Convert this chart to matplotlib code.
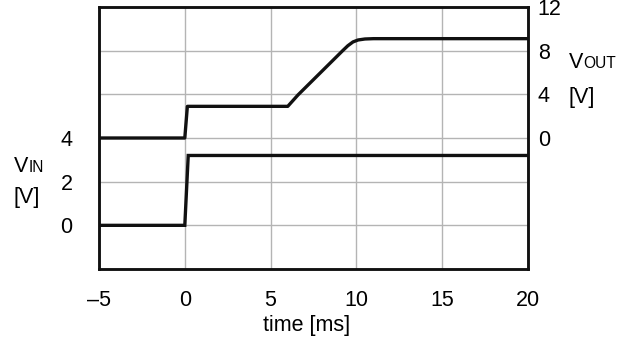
import matplotlib
matplotlib.use("Agg")
import matplotlib.pyplot as plt

plt.rcParams['font.family'] = ['Liberation Sans', 'DejaVu Sans']

# data
vin_t = [-5, 0.0, 0.2, 20]
vin_v = [0, 0, 3.2, 3.2]
vout_t = [-5, 0.0, 0.15, 6.0, 6.6, 9.2, 9.5, 9.8, 10.1, 10.5, 11.0, 20]
vout_v = [0, 0, 2.9, 2.9, 3.95, 8.0, 8.45, 8.8, 8.98, 9.07, 9.1, 9.1]
x_ticks = [-5, 0, 5, 10, 15, 20]
x_labels = ['\u20135', '0', '5', '10', '15', '20']
vin_ticks = [0, 2, 4, 6, 8]
vin_labels = ['0', '2', '4', '', '']
vout_ticks = [0, 4, 8, 12]
vout_labels = ['0', '4', '8', '12']

W, H = 629, 342
fig = plt.figure(figsize=(W / 100, H / 100), dpi=100)
ax = fig.add_axes([99 / W, 1 - 269 / H, 429 / W, 262 / H])
ax2 = ax.twinx()

fs = 15.5
ax.set_xlim(-5, 20)
ax.set_ylim(-2, 10)
ax2.set_ylim(-12, 12)

ax.set_xticks(x_ticks)
ax.set_xticklabels(x_labels, fontsize=fs)
ax.set_yticks(vin_ticks)
ax.set_yticklabels(vin_labels, fontsize=fs)
ax2.set_yticks(vout_ticks)
ax2.set_yticklabels(vout_labels, fontsize=fs)

ax.tick_params(axis='x', length=0, pad=15)
ax.tick_params(axis='y', length=0, pad=19)
ax2.tick_params(axis='y', length=0, pad=7)

ax.grid(True, color='#b4b4b4', linewidth=1.0)
ax.set_axisbelow(True)

for a in (ax, ax2):
    for s in a.spines.values():
        s.set_linewidth(1.8)
        s.set_color('#111111')

ax.plot(vin_t, vin_v, color='#111111', linewidth=2.4, solid_joinstyle='miter')
ax2.plot(vout_t, vout_v, color='#111111', linewidth=2.4, solid_joinstyle='round')

# axis labels
fig.text(307 / W, 1 - 326 / H, 'time [ms]', fontsize=fs, ha='center', va='center')

fig.text(14 / W, 1 - 172 / H, 'V', fontsize=fs, ha='left', va='baseline')
fig.text(28.5 / W, 1 - 172 / H, 'IN', fontsize=fs * 0.72, ha='left', va='baseline')
fig.text(14 / W, 1 - 198 / H, '[V]', fontsize=fs, ha='left', va='center')

fig.text(569 / W, 1 - 68 / H, 'V', fontsize=fs, ha='left', va='baseline')
fig.text(583.5 / W, 1 - 68 / H, 'OUT', fontsize=fs * 0.72, ha='left', va='baseline')
fig.text(569 / W, 1 - 98 / H, '[V]', fontsize=fs, ha='left', va='center')

fig.savefig('out.png', dpi=100)
